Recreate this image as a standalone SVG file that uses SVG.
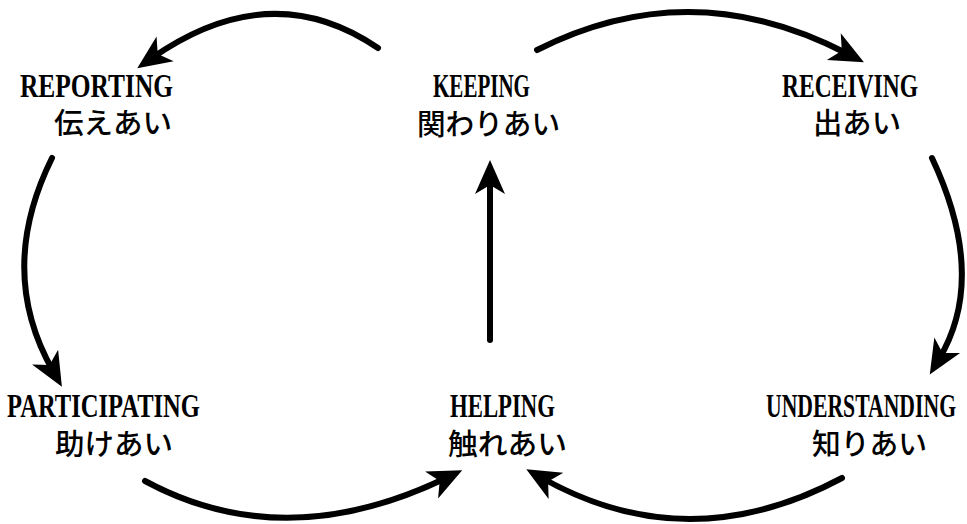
<svg xmlns="http://www.w3.org/2000/svg" width="967" height="524" viewBox="0 0 967 524">
<style>
.en{font-family:"Liberation Serif","Noto Serif",serif;font-weight:bold;font-size:34px;fill:#000}
.jp{font-family:"Noto Sans CJK JP",sans-serif;font-weight:500;font-size:29px;fill:#000}
.c{fill:none;stroke:#000;stroke-width:6;stroke-linecap:round}
</style>
<defs>
<marker id="ah" markerUnits="userSpaceOnUse" orient="auto" viewBox="-20 -16 40 32" refX="0" refY="0" markerWidth="40" markerHeight="32" overflow="visible">
<path d="M18,0 L-16,-15 L-7,0 L-16,15 Z" fill="#000"/>
</marker>
</defs>
<rect width="967" height="524" fill="#fff"/>
<g id="connectors">
<path class="c" d="M378,48 Q271,-25 152,58" marker-end="url(#ah)"/>
<path class="c" d="M537,50 Q691,-28 848,54" marker-end="url(#ah)"/>
<path class="c" d="M52,158 Q-4,271 53,371" marker-end="url(#ah)"/>
<path class="c" d="M932,158 Q988,277 939,359" marker-end="url(#ah)"/>
<path class="c" d="M490,340 L490,178" marker-end="url(#ah)"/>
<path class="c" d="M145,481 Q284,556 446,478" marker-end="url(#ah)"/>
<path class="c" d="M842,478 Q688,560 542,478" marker-end="url(#ah)"/>
</g>
<g id="reporting">
<text class="en" transform="translate(20,97) scale(0.72,1)" textLength="212.5" lengthAdjust="spacingAndGlyphs">REPORTING</text>
<text class="jp" x="54" y="134" textLength="118" lengthAdjust="spacingAndGlyphs">伝えあい</text>
</g>
<g id="keeping">
<text class="en" transform="translate(433,97) scale(0.72,1)" textLength="134.7" lengthAdjust="spacingAndGlyphs">KEEPING</text>
<text class="jp" x="417" y="135" textLength="143" lengthAdjust="spacingAndGlyphs">関わりあい</text>
</g>
<g id="receiving">
<text class="en" transform="translate(782,97) scale(0.72,1)" textLength="188.9" lengthAdjust="spacingAndGlyphs">RECEIVING</text>
<text class="jp" x="813" y="134" textLength="88" lengthAdjust="spacingAndGlyphs">出あい</text>
</g>
<g id="participating">
<text class="en" transform="translate(7,417) scale(0.72,1)" textLength="268" lengthAdjust="spacingAndGlyphs">PARTICIPATING</text>
<text class="jp" x="55" y="455" textLength="118" lengthAdjust="spacingAndGlyphs">助けあい</text>
</g>
<g id="helping">
<text class="en" transform="translate(450,417) scale(0.72,1)" textLength="145.8" lengthAdjust="spacingAndGlyphs">HELPING</text>
<text class="jp" x="448" y="455" textLength="119" lengthAdjust="spacingAndGlyphs">触れあい</text>
</g>
<g id="understanding">
<text class="en" transform="translate(766,417) scale(0.6,1)" textLength="316.7" lengthAdjust="spacingAndGlyphs">UNDERSTANDING</text>
<text class="jp" x="812" y="455" textLength="115" lengthAdjust="spacingAndGlyphs">知りあい</text>
</g>
</svg>
